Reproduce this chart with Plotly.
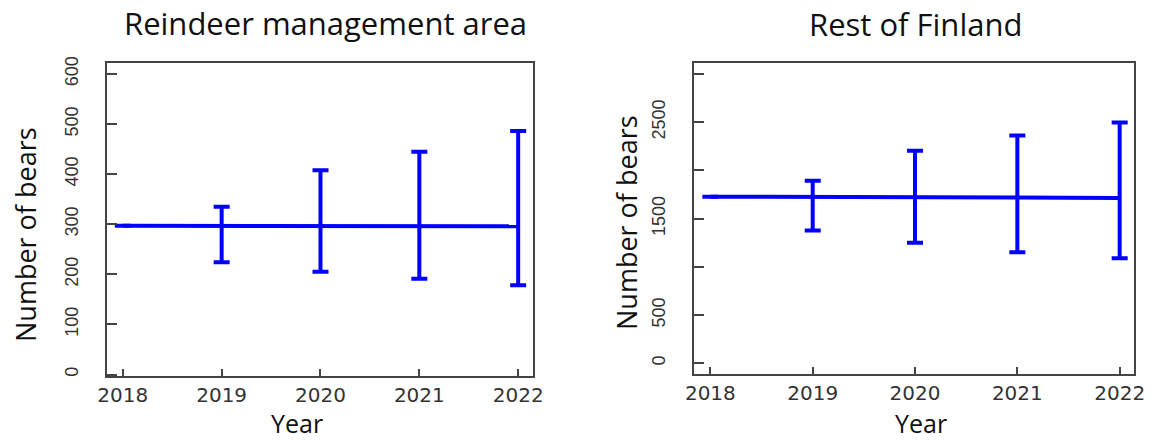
import plotly.graph_objects as go

# Bear population estimates with 95% intervals, 2018-2022
years = [2018, 2019, 2020, 2021, 2022]

reindeer_est = [297, 297, 297, 296, 296]
reindeer_upper = [None, 335, 408, 445, 486]
reindeer_lower = [None, 224, 205, 191, 178]

rest_est = [1728, 1727, 1722, 1720, 1715]
rest_upper = [None, 1894, 2205, 2361, 2496]
rest_lower = [None, 1376, 1251, 1151, 1089]

left_yticks = [0, 100, 200, 300, 400, 500, 600]
right_yticks = [0, 500, 1000, 1500, 2000, 2500, 3000]
right_ytext = ["0", "500", "", "1500", "", "2500", ""]

BLUE = "#0000ff"
FRAME = "#444444"


def err_arrays(est, upper, lower):
    plus = [None if u is None else u - e for e, u in zip(est, upper)]
    minus = [None if l is None else e - l for e, l in zip(est, lower)]
    return plus, minus


fig = go.Figure()

for est, up, lo, xa, ya in [
    (reindeer_est, reindeer_upper, reindeer_lower, "x", "y"),
    (rest_est, rest_upper, rest_lower, "x2", "y2"),
]:
    plus, minus = err_arrays(est, up, lo)
    fig.add_trace(go.Scatter(
        x=years, y=est, mode="lines", xaxis=xa, yaxis=ya,
        line=dict(color=BLUE, width=4),
        error_y=dict(type="data", symmetric=False, array=plus, arrayminus=minus,
                     color=BLUE, thickness=4, width=8),
        showlegend=False, hoverinfo="skip",
    ))

xcommon = dict(
    tickvals=years, ticks="inside", ticklen=7, tickwidth=2, tickcolor=FRAME,
    showline=True, linecolor=FRAME, linewidth=2, mirror=True,
    showgrid=False, zeroline=False, automargin=False,
    tickfont=dict(family="DejaVu Sans", size=20, color="#333333"),
)
ycommon = dict(
    ticks="inside", ticklen=10, tickwidth=2, tickcolor=FRAME, tickangle=-90,
    showline=True, linecolor=FRAME, linewidth=2, mirror=True,
    showgrid=False, zeroline=False, automargin=False, ticklabelstandoff=20,
    tickfont=dict(family="Liberation Sans", size=18, color="#333333"),
)

fig.update_layout(
    width=1154, height=441,
    margin=dict(l=0, r=0, t=0, b=0, autoexpand=False),
    paper_bgcolor="white", plot_bgcolor="white",
    xaxis=dict(domain=[107 / 1154, 533 / 1154], range=[2017.84, 2022.15],
               anchor="y", **xcommon),
    yaxis=dict(domain=[1 - 376 / 441, 1 - 63 / 441], range=[-3, 622],
               anchor="x", tickvals=left_yticks, **ycommon),
    xaxis2=dict(domain=[694 / 1154, 1134 / 1154], range=[2017.84, 2022.14],
                anchor="y2", **xcommon),
    yaxis2=dict(domain=[1 - 374 / 441, 1 - 63 / 441], range=[-111, 3114],
                anchor="x2", tickvals=right_yticks, ticktext=right_ytext,
                **ycommon),
)

title_font = dict(family="Open Sans", size=31, color="#111111")
label_font = dict(family="Open Sans", size=27, color="#111111")
year_font = dict(family="Open Sans", size=25, color="#111111")

texts = [
    ("Reindeer management area", 325, 23, 0, title_font),
    ("Rest of Finland", 915, 24, 0, title_font),
    ("Year", 297, 423, 0, year_font),
    ("Year", 921, 423, 0, year_font),
    ("Number of bears", 26, 235, -90, label_font),
    ("Number of bears", 626, 223, -90, label_font),
]
for txt, px, py, ang, fnt in texts:
    fig.add_annotation(
        text=txt, x=px / 1154, y=1 - py / 441, xref="paper", yref="paper",
        xanchor="center", yanchor="middle", showarrow=False,
        textangle=ang, font=fnt,
    )

fig.write_html("out.html")
